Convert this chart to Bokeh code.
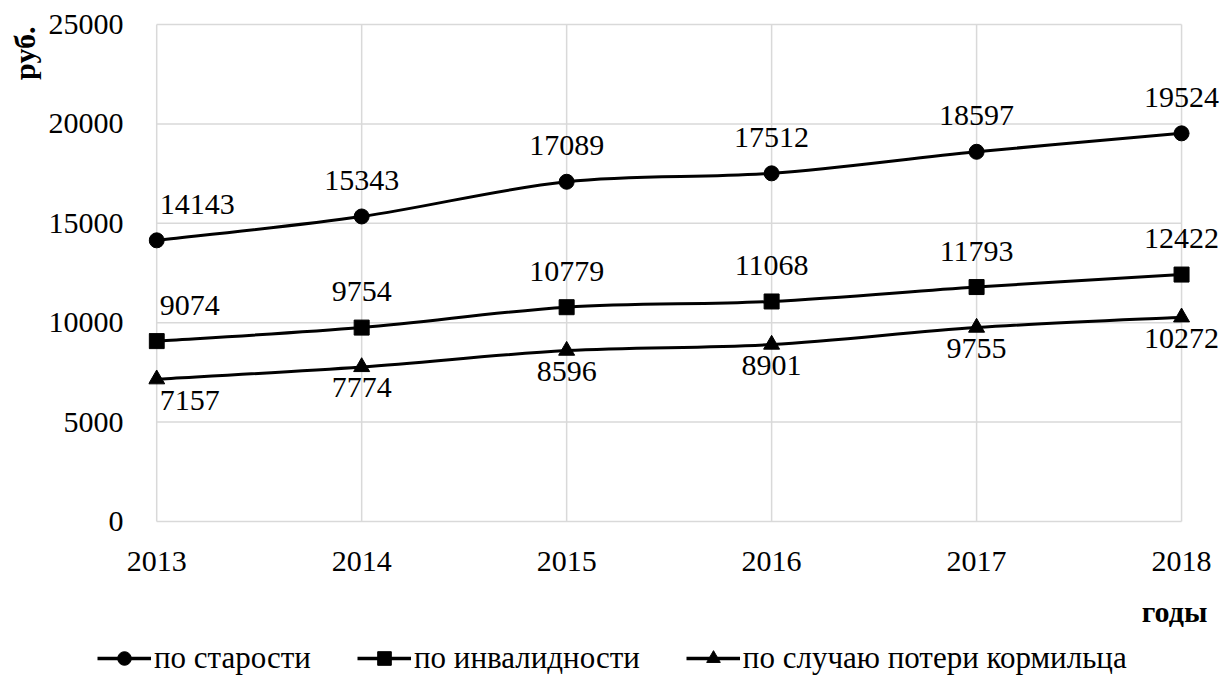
import math
from bokeh.plotting import figure
from bokeh.layouts import column, row
from bokeh.models import ColumnDataSource, Range1d, Legend, LegendItem, FixedTicker, Label
from bokeh.core.properties import value
from bokeh.embed import file_html
from bokeh.resources import INLINE

years = [2013, 2014, 2015, 2016, 2017, 2018]
old_age = [14143, 15343, 17089, 17512, 18597, 19524]
disability = [9074, 9754, 10779, 11068, 11793, 12422]
survivor = [7157, 7774, 8596, 8901, 9755, 10272]
series_names = ["по старости", "по инвалидности", "по случаю потери кормильца"]
y_ticks = [0, 5000, 10000, 15000, 20000, 25000]
y_title = "руб."
x_title = "годы"

FONT = "Liberation Serif"
GRID = "#d9d9d9"
W = 1220
STRIP = 45
H1 = 593


def blank(width, height):
    f = figure(width=width, height=height, output_backend="svg", toolbar_location=None,
               x_range=Range1d(0, width), y_range=Range1d(0, height),
               x_axis_type=None, y_axis_type=None,
               min_border_left=0, min_border_right=0, min_border_top=0,
               min_border_bottom=0)
    f.frame_align = False
    f.outline_line_color = None
    f.grid.visible = False
    return f


p = figure(width=W - STRIP, height=H1, output_backend="svg", toolbar_location=None,
           x_range=Range1d(2012.96, 2018.19), y_range=Range1d(-100, 25100),
           min_border_left=147 - STRIP, min_border_right=0, min_border_top=22,
           min_border_bottom=70)
p.frame_align = False
p.outline_line_color = None
p.grid.visible = False

# grid lines spanning exactly the category / value extent
p.segment(x0=[years[0]] * len(y_ticks), y0=y_ticks, x1=[years[-1]] * len(y_ticks),
          y1=y_ticks, line_color=GRID, line_width=1.5)
p.segment(x0=years, y0=[y_ticks[0]] * len(years), x1=years,
          y1=[y_ticks[-1]] * len(years), line_color=GRID, line_width=1.5)

p.xaxis.ticker = FixedTicker(ticks=years)
p.yaxis.ticker = FixedTicker(ticks=y_ticks)
for ax in (p.xaxis[0], p.yaxis[0]):
    ax.axis_line_color = None
    ax.major_tick_line_color = None
    ax.minor_tick_line_color = None
    ax.major_label_text_font = FONT
    ax.major_label_text_font_size = "30px"
    ax.major_label_text_color = "black"
p.xaxis.major_label_standoff = 22
p.yaxis.major_label_standoff = 19


def smooth(xs, ys):
    n = len(xs)
    px = [xs[0]] + list(xs) + [xs[-1]]
    py = [ys[0]] + list(ys) + [ys[-1]]
    d = dict(x0=[], y0=[], x1=[], y1=[], cx0=[], cy0=[], cx1=[], cy1=[])
    for i in range(n - 1):
        j = i + 1
        d["x0"].append(px[j]); d["y0"].append(py[j])
        d["x1"].append(px[j + 1]); d["y1"].append(py[j + 1])
        d["cx0"].append(px[j] + (px[j + 1] - px[j - 1]) / 6)
        d["cy0"].append(py[j] + (py[j + 1] - py[j - 1]) / 6)
        d["cx1"].append(px[j + 1] - (px[j + 2] - px[j]) / 6)
        d["cy1"].append(py[j + 1] - (py[j + 2] - py[j]) / 6)
    return ColumnDataSource(d)


markers = ["circle", "square", "triangle"]
msize = [15, 15, 16]
label_dy = [-36, -36, 21]
for name, vals, mk, ms, dy in zip(series_names, [old_age, disability, survivor],
                                  markers, msize, label_dy):
    p.bezier(x0="x0", y0="y0", x1="x1", y1="y1", cx0="cx0", cy0="cy0",
             cx1="cx1", cy1="cy1", source=smooth(years, vals),
             line_color="black", line_width=3)
    src = ColumnDataSource(dict(x=years, y=vals))
    p.scatter("x", "y", source=src, marker=mk, size=ms,
              fill_color="black", line_color="black")
    first = ColumnDataSource(dict(x=years[:1], y=vals[:1], t=[str(v) for v in vals[:1]]))
    rest = ColumnDataSource(dict(x=years[1:], y=vals[1:], t=[str(v) for v in vals[1:]]))
    p.text("x", "y", text="t", source=rest, text_font=value(FONT), text_font_size="30px",
           text_align="center", text_baseline="middle", y_offset=dy, text_color="black")
    p.text("x", "y", text="t", source=first, text_font=value(FONT), text_font_size="30px",
           text_align="left", text_baseline="middle", x_offset=3, y_offset=dy,
           text_color="black")

# left strip with the rotated value-axis title
strip = blank(STRIP, H1)
strip.add_layout(Label(x=24, y=H1 - 26, text=y_title, angle=math.pi / 2,
                       text_font=FONT, text_font_size="30px", text_font_style="bold",
                       text_color="black", text_align="right", text_baseline="middle"))

# lower strip: axis title and legend
H2 = 83
p2 = blank(W, H2)
p2.add_layout(Label(x=1174, y=H2 - 18, text=x_title, text_font=FONT,
                    text_font_size="30px", text_font_style="bold", text_color="black",
                    text_align="center", text_baseline="middle"))

nan = float("nan")
items = []
for name, mk, ms in zip(series_names, markers, msize):
    ln = p2.line(x=[nan, nan], y=[nan, nan], line_color="black", line_width=3.5)
    sc = p2.scatter(x=[nan], y=[nan], marker=mk, size=ms, fill_color="black",
                    line_color="black")
    items.append(LegendItem(label=name, renderers=[ln, sc]))

legend = Legend(items=items, location=(97, 0), orientation="horizontal",
                label_text_font=FONT, label_text_font_size="31px",
                label_text_color="black",
                glyph_width=54, glyph_height=34, label_standoff=3, spacing=46,
                padding=0, margin=0, border_line_color=None,
                background_fill_alpha=0)
p2.add_layout(legend)

layout = column(row(strip, p, spacing=0), p2, spacing=0)
open("out.html", "w").write(file_html(layout, INLINE))
